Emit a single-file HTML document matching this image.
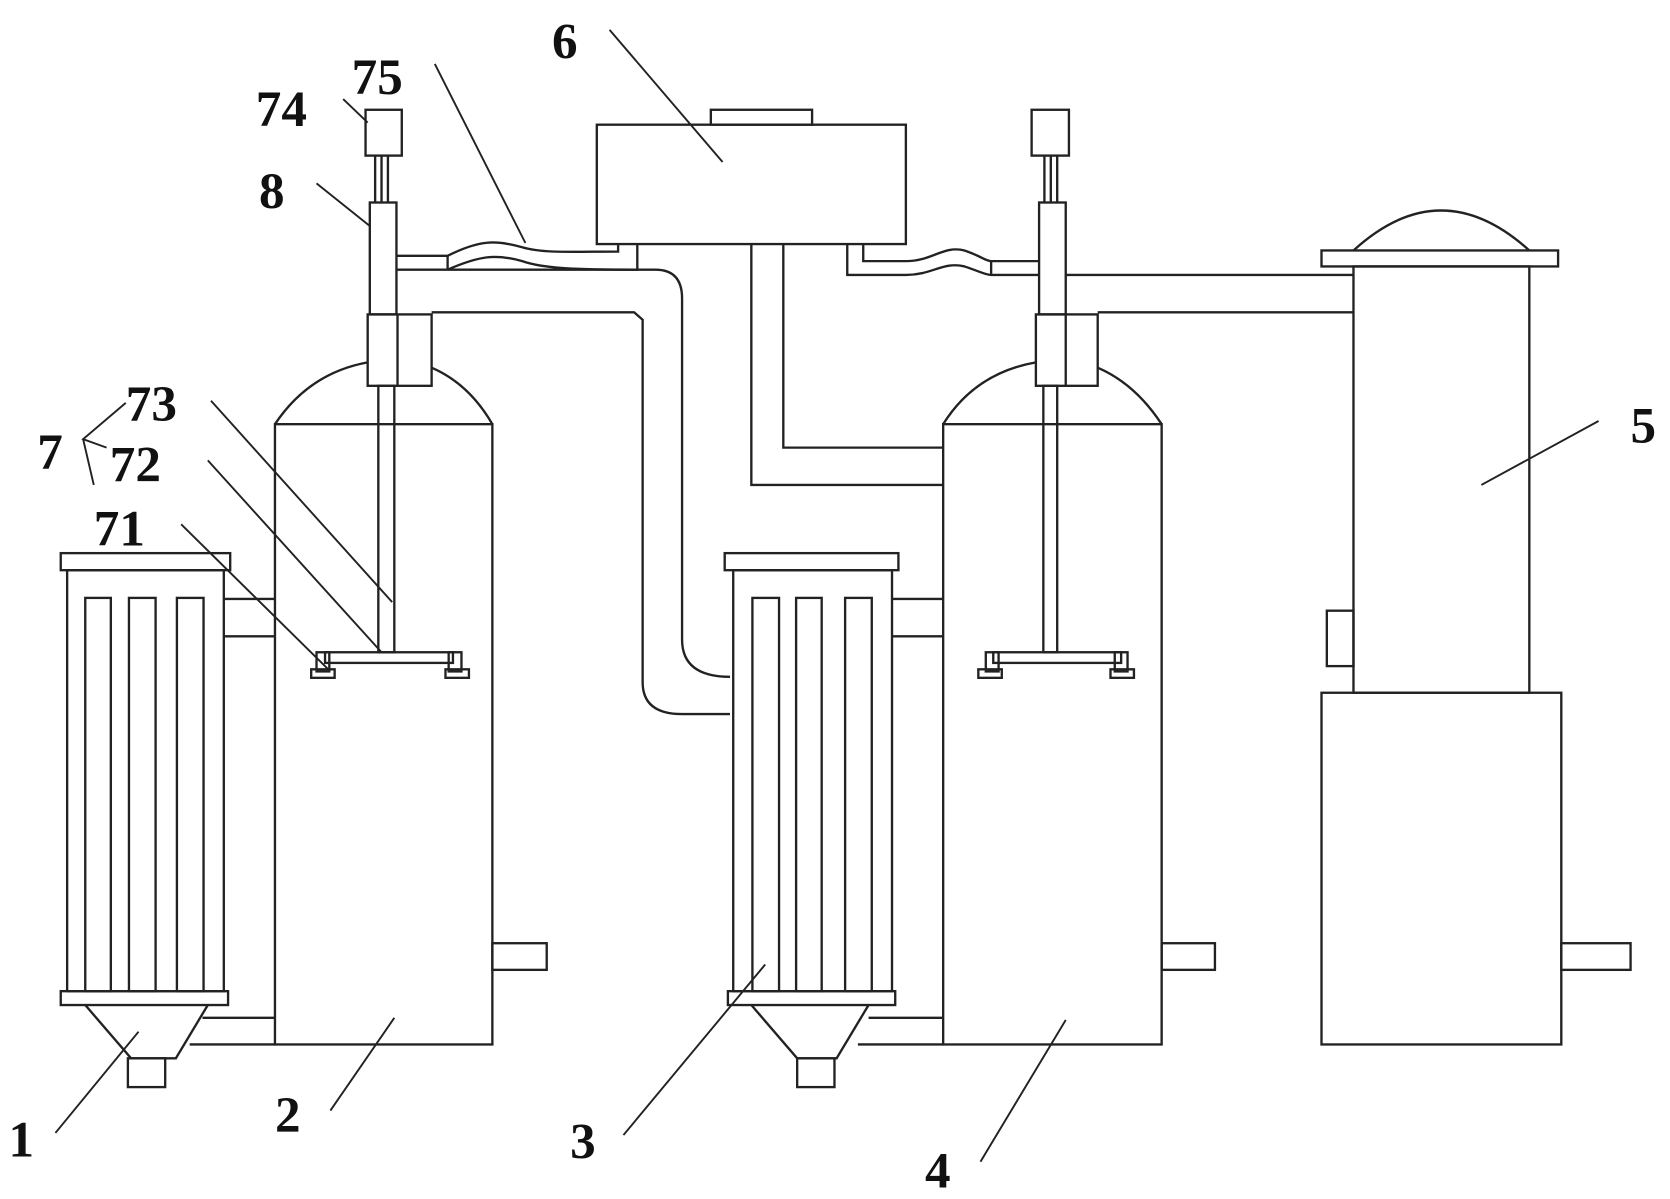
<!DOCTYPE html>
<html><head><meta charset="utf-8"><style>html,body{margin:0;padding:0;background:#fff}svg{display:block}
text{font-family:"Liberation Serif",serif;font-weight:bold;font-size:48px;fill:#111}</style></head>
<body>
<svg width="1670" height="1199" viewBox="0 0 1567 1125" preserveAspectRatio="none" xmlns="http://www.w3.org/2000/svg">
<g fill="none" stroke="#222" stroke-width="2.2">
<!-- Filter 1 -->
<rect x="57" y="519" width="159" height="16"/>
<rect x="63" y="535" width="147" height="395"/>
<rect x="80" y="561" width="24" height="369"/>
<rect x="121" y="561" width="25" height="369"/>
<rect x="166" y="561" width="25" height="369"/>
<rect x="57" y="930" width="157" height="13"/>
<path d="M80 943 L123 993 L165 993 L195 943"/>
<rect x="120" y="993" width="35" height="27"/>
<path d="M210 562 H258 M210 597 H258 M190 955 H258 M178 980 H258"/>
<!-- Tank 2 -->
<rect x="258" y="398" width="204" height="582"/>
<path d="M258 398 Q290 350 345 340 M405 345 Q440 360 462 398"/>
<rect x="462" y="885" width="51" height="25"/>
<rect x="345" y="295" width="60" height="67"/>
<path d="M373 295 V362"/>
<rect x="355" y="362" width="15" height="250"/>
<rect x="347" y="190" width="25" height="105"/>
<path d="M352 146 V190 M358 146 V190 M364 146 V190"/>
<rect x="343" y="103" width="34" height="43"/>
<rect x="305" y="612" width="120" height="10"/>
<rect x="297" y="612" width="12" height="18"/><rect x="292" y="628" width="22" height="8"/>
<rect x="421" y="612" width="12" height="18"/><rect x="418" y="628" width="22" height="8"/>
<!-- pipes from tank2 neck -->
<path d="M372 253 H615 Q640 253 640 280 V600 Q640 635 685 635"/>
<path d="M405 293 H595 L603 300 V640 Q603 670 640 670 H685"/>
<path d="M372 240 H420 C450 225 465 225 490 232 C510 238 540 236 580 236 V229"/>
<path d="M420 240 V253 M420 253 C450 240 465 238 490 245 C510 252 540 253 598 253 V229"/>
<!-- Box 6 -->
<rect x="560" y="117" width="290" height="112"/>
<rect x="667" y="103" width="95" height="14"/>
<path d="M735 229 V420 H885 M705 229 V455 H885"/>
<path d="M810 229 V245 H850 C875 245 885 230 905 235 C920 240 925 245 930 245 H975"/>
<path d="M795 229 V258 H850 C875 258 885 245 905 250 C920 255 925 258 930 258 H975 M930 245 V258"/>
<!-- Filter 3 -->
<rect x="680" y="519" width="163" height="16"/>
<rect x="688" y="535" width="149" height="395"/>
<rect x="706" y="561" width="25" height="369"/>
<rect x="747" y="561" width="24" height="369"/>
<rect x="793" y="561" width="25" height="369"/>
<rect x="683" y="930" width="157" height="13"/>
<path d="M705 943 L748 993 L785 993 L815 943"/>
<rect x="748" y="993" width="35" height="27"/>
<path d="M837 562 H885 M837 597 H885 M815 955 H885 M805 980 H885"/>
<!-- Tank 4 -->
<rect x="885" y="398" width="205" height="582"/>
<path d="M885 398 Q915 350 972 340 M1030 345 Q1065 360 1090 398"/>
<rect x="1090" y="885" width="50" height="25"/>
<rect x="972" y="295" width="58" height="67"/>
<path d="M1000 295 V362"/>
<rect x="979" y="362" width="13" height="250"/>
<rect x="975" y="190" width="25" height="105"/>
<path d="M980 146 V190 M986 146 V190 M992 146 V190"/>
<rect x="968" y="103" width="35" height="43"/>
<rect x="932" y="612" width="120" height="10"/>
<rect x="925" y="612" width="12" height="18"/><rect x="918" y="628" width="22" height="8"/>
<rect x="1046" y="612" width="12" height="18"/><rect x="1042" y="628" width="22" height="8"/>
<path d="M1000 258 H1270 M1030 293 H1270"/>
<!-- Column 5 -->
<rect x="1270" y="250" width="165" height="400"/>
<rect x="1240" y="235" width="222" height="15"/>
<path d="M1270 235 Q1352 160 1435 235"/>
<rect x="1245" y="573" width="25" height="52"/>
<rect x="1240" y="650" width="225" height="330"/>
<rect x="1465" y="885" width="65" height="25"/>
</g>
<g stroke="#222" stroke-width="1.8" fill="none">
<path d="M572 28 L678 152 M408 60 L493 228 M322 93 L345 115 M297 172 L347 212 M198 376 L368 565 M195 432 L358 612 M170 492 L308 628 M118 378 L78 412 L100 420 M78 412 L88 455 M1500 395 L1390 455 M52 1063 L130 968 M310 1042 L370 955 M585 1065 L718 905 M920 1090 L1000 957"/>
</g>
<text x="518" y="55">6</text>
<text x="330" y="88">75</text>
<text x="240" y="118">74</text>
<text x="243" y="195">8</text>
<text x="118" y="395">73</text>
<text x="35" y="440">7</text>
<text x="103" y="452">72</text>
<text x="88" y="512">71</text>
<text x="1530" y="415">5</text>
<text x="8" y="1085">1</text>
<text x="258" y="1062">2</text>
<text x="535" y="1087">3</text>
<text x="868" y="1114">4</text>
</svg>
</body></html>
